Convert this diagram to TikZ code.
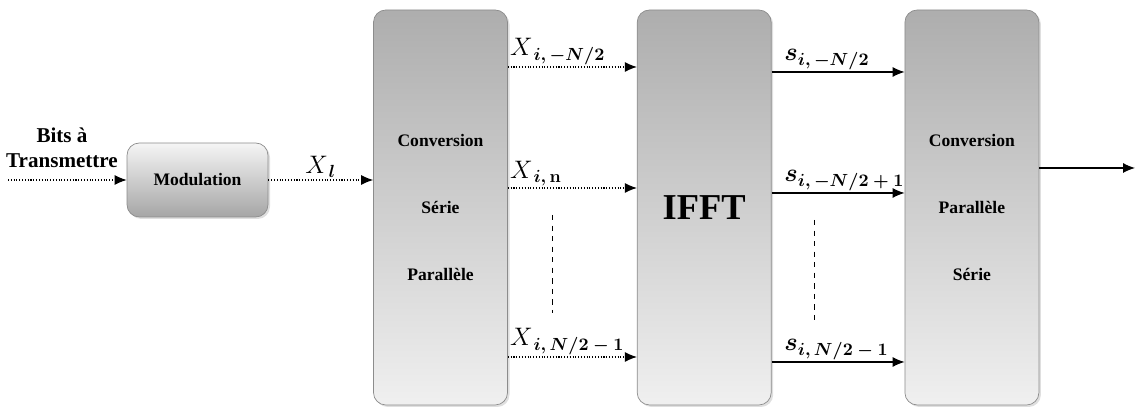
\documentclass[tikz,border=0pt]{standalone}
\usepackage{amsmath}
\usepackage{fontspec}
\setmainfont{Liberation Serif}
\usetikzlibrary{arrows.meta,positioning,shadows}
\newcommand{\sub}[1]{\mbox{\normalsize$\boldsymbol{#1}$}}
\tikzset{
  bloc/.style={
    rounded corners=7pt,
    draw=black!45,
    top color=black!32,
    bottom color=black!6,
    align=center,
    minimum width=2.68cm,
    minimum height=7.9cm,
    inner sep=0pt,
    font=\normalsize\bfseries,
    drop shadow={opacity=0.25,shadow xshift=0.4mm,shadow yshift=-0.4mm}
  },
  modul/.style={
    rounded corners=7pt,
    draw=black!45,
    top color=black!4,
    bottom color=black!35,
    align=center,
    minimum width=2.82cm,
    minimum height=1.48cm,
    inner sep=0pt,
    font=\normalsize\bfseries,
    drop shadow={opacity=0.25,shadow xshift=0.4mm,shadow yshift=-0.4mm}
  },
  arrow/.style={
    -{Latex[length=2.4mm,width=2mm]},
    semithick,
    black
  },
  pointille/.style={densely dotted},
  etiq/.style={font=\Large,inner sep=1pt}
}

\begin{document}
\begin{tikzpicture}
\useasboundingbox (0,0) rectangle (22.72,8.18);
\node[bloc] (b) at (8.81,4.03) {Conversion\\[26pt]Série\\[26pt]Parallèle};
\node[bloc,right=2.58cm of b] (c) {\huge IFFT};
\node[bloc,right=2.66cm of c] (d) {Conversion\\[26pt]Parallèle\\[26pt]Série};
\node[modul] (a) at (3.95,4.58) {Modulation};
\node[align=center,font=\large\bfseries,inner sep=0pt] (bits) at (1.24,5.22) {Bits à\\Transmettre};
\coordinate (in) at (0.16,4.58);
\coordinate (out) at (22.70,4.82);
% entree et modulation
\draw[arrow,pointille] (in) -- (a);
\draw[arrow,pointille] (a) -- node[etiq,above] {$X_{\,\sub{l}}$} (a -| b.west);
% serie -> IFFT
\draw[arrow,pointille] (b.east |- 0,6.84) -- node[etiq,pos=0,anchor=south west] {$X_{\,\sub{i,-N/2}}$} (c.west |- 0,6.84);
\draw[arrow,pointille] (b.east |- 0,4.42) -- node[etiq,pos=0,anchor=south west] {$X_{\,\sub{i,\mathbf{n}}}$} (c.west |- 0,4.42);
\draw[arrow,pointille] (b.east |- 0,1.04) -- node[etiq,pos=0,anchor=south west] {$X_{\,\sub{i,N/2-1}}$} (c.west |- 0,1.04);
\draw[dashed] (11.04,3.88) -- (11.04,1.92);
% IFFT -> parallele
\draw[arrow] (c.east |- 0,6.74) -- node[etiq,pos=0.08,anchor=south west] {$\boldsymbol{s}_{\sub{i,-N/2}}$} (d.west |- 0,6.74);
\draw[arrow] (c.east |- 0,4.32) -- node[etiq,pos=0.08,anchor=south west] {$\boldsymbol{s}_{\sub{i,-N/2+1}}$} (d.west |- 0,4.32);
\draw[arrow] (c.east |- 0,0.94) -- node[etiq,pos=0.08,anchor=south west] {$\boldsymbol{s}_{\sub{i,N/2-1}}$} (d.west |- 0,0.94);
\draw[dashed] (16.28,3.78) -- (16.28,1.78);
% sortie
\draw[arrow] (d.east |- out) -- (out);
\end{tikzpicture}
\end{document}
